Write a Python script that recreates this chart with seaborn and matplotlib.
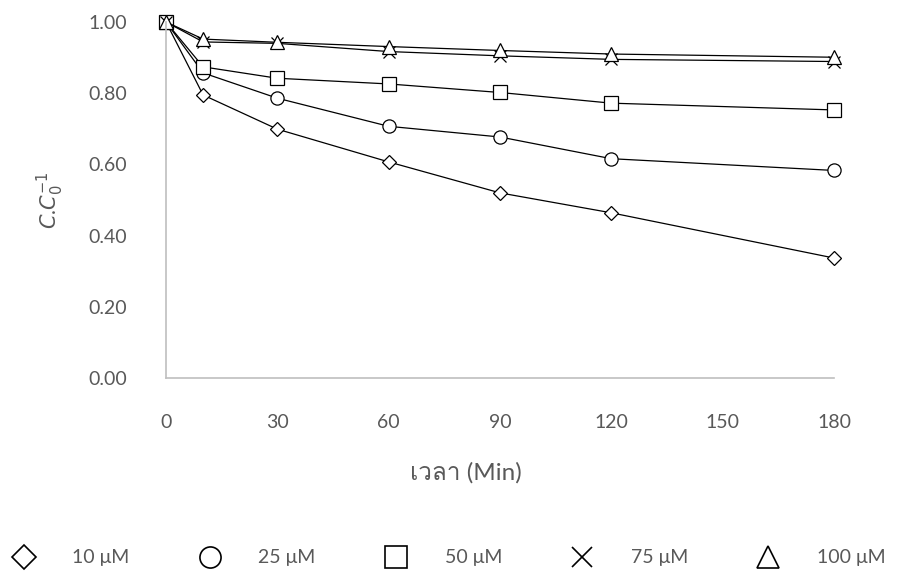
import matplotlib
matplotlib.use("Agg")
import matplotlib.pyplot as plt
from matplotlib.lines import Line2D
from matplotlib import font_manager as fm
from matplotlib.ft2font import FT2Font
import seaborn as sns
import pandas as pd

time_min = [0, 10, 30, 60, 90, 120, 180]
c10 = [1.00, 0.795, 0.699, 0.607, 0.520, 0.464, 0.337]
c25 = [1.00, 0.857, 0.786, 0.707, 0.677, 0.616, 0.583]
c50 = [1.00, 0.874, 0.842, 0.826, 0.802, 0.772, 0.753]
c75 = [1.00, 0.944, 0.940, 0.917, 0.905, 0.895, 0.889]
c100 = [1.00, 0.952, 0.943, 0.931, 0.920, 0.910, 0.901]
series_labels = ["10 μM", "25 μM", "50 μM", "75 μM", "100 μM"]
series_values = [c10, c25, c50, c75, c100]
markers = ["D", "o", "s", "x", "^"]
xticks = [0, 30, 60, 90, 120, 150, 180]
yticks = [0.0, 0.2, 0.4, 0.6, 0.8, 1.0]
xlabel_text = "เวลา (Min)"

# find an installed family that has the Thai glyphs
thai_chars = [c for c in xlabel_text if 0x0E00 < ord(c) < 0x0E80]
candidates = []
for f in fm.fontManager.ttflist:
    try:
        ft = FT2Font(f.fname)
        if all(ft.get_char_index(ord(c)) for c in thai_chars):
            candidates.append(f)
    except Exception:
        pass
candidates.sort(key=lambda f: (f.weight not in (400, "normal", "regular"), f.style != "normal"))
thai_family = candidates[0].name if candidates else None

sns.set_style("white")
plt.rcParams["font.family"] = ["Lato", "DejaVu Sans"]

fig = plt.figure(figsize=(9.08, 5.77), dpi=100)
ax = fig.add_axes([166/908, 1-378/577, (834-166)/908, (378-22)/577])

msizes = {"D": 7.5, "o": 9.5, "s": 9.5, "x": 9, "^": 10}
for lab, vals, m in zip(series_labels, series_values, markers):
    df = pd.DataFrame({"t": time_min, "v": vals})
    sns.lineplot(data=df, x="t", y="v", ax=ax, color="black", lw=0.9,
                 marker=m, markersize=msizes[m], markerfacecolor="white",
                 markeredgecolor="black", markeredgewidth=0.9, clip_on=False,
                 legend=False)

ax.set_xlim(0, 180)
ax.set_ylim(0, 1.0)
ax.set_xticks(xticks)
ax.set_xticklabels([str(x) for x in xticks])
ax.set_yticks(yticks)
ax.set_yticklabels([f"{y:.2f}" for y in yticks])
for s in ["top", "right"]:
    ax.spines[s].set_visible(False)
for s in ["left", "bottom"]:
    ax.spines[s].set_color("#bfbfbf")
    ax.spines[s].set_linewidth(1.2)
ax.tick_params(axis="both", direction="out", length=6, width=1, color="#bfbfbf",
               labelcolor="#595959", labelsize=14)
ax.tick_params(axis="y", pad=22)
ax.tick_params(axis="x", pad=20)

xl_family = ["Lato"] + ([thai_family] if thai_family else []) + ["DejaVu Sans"]
ax.set_xlabel(xlabel_text, fontsize=17.5, color="#595959", family=xl_family)
ax.xaxis.set_label_coords((466 - 166) / 668, (378 - 462) / 356)
ax.set_ylabel(r"$C$.$C_0^{-1}$", fontsize=15, color="#595959", labelpad=16)

handles = [Line2D([], [], linestyle="none", marker=m, markersize=msizes[m]*1.6,
                  markerfacecolor="white", markeredgecolor="black", markeredgewidth=1.2)
           for m in markers]
fig.legend(handles, series_labels, loc="center", bbox_to_anchor=(0.490, 1-558/577),
           ncol=5, frameon=False, fontsize=14, labelcolor="#595959",
           handletextpad=1.5, columnspacing=3.13)

fig.savefig("out.png", dpi=100)
